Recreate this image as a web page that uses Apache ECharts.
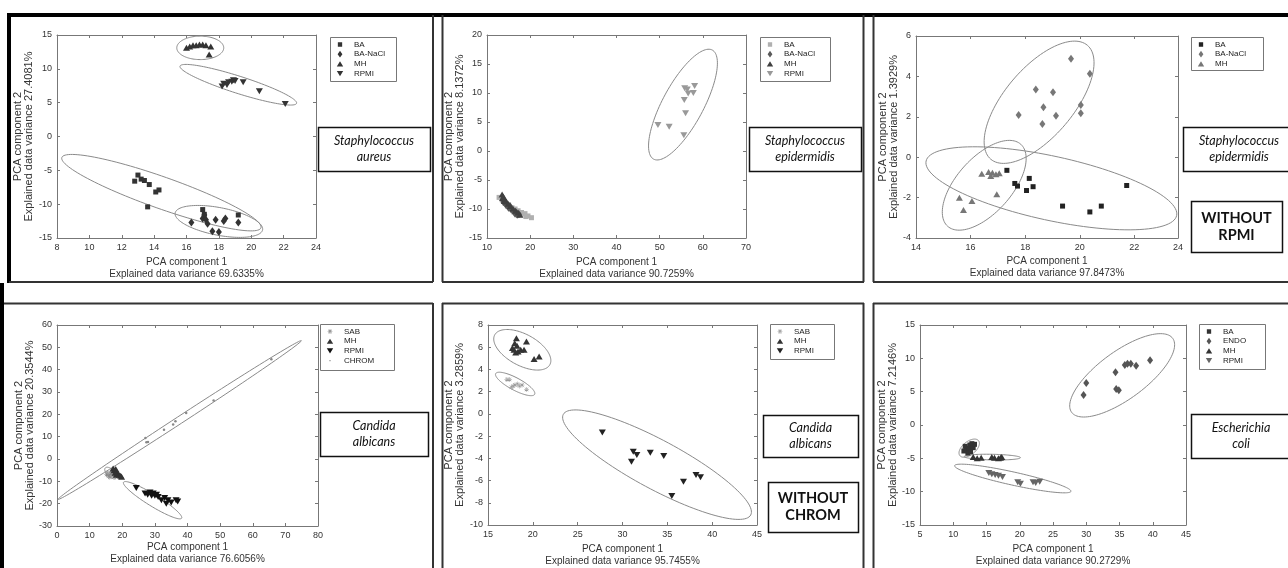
<!DOCTYPE html>
<html>
<head>
<meta charset="utf-8">
<title>PCA</title>
<script src="https://cdn.jsdelivr.net/npm/echarts/dist/echarts.min.js"></script>
<style>
html, body { margin: 0; padding: 0; background: #fff; }
#chart { width: 1288px; height: 568px; }
</style>
</head>
<body>
<div id="chart"></div>
<script type="text/javascript">
// explained variance per panel
var xVariance = ['69.6335%', '90.7259%', '97.8473%', '76.6056%', '95.7455%', '90.2729%'];
var yVariance = ['27.4081%', '8.1372%', '1.3929%', '20.3544%', '3.2859%', '7.2146%'];

// Staphylococcus aureus
var saBA = [[13.0,-5.7],[12.8,-6.6],[13.2,-6.3],[13.4,-6.5],[13.7,-7.1],[14.1,-8.2],[14.3,-7.9],[13.6,-10.4],[17.0,-10.8],[17.1,-11.5],[19.2,-11.6]];
var saBANaCl = [[16.3,-12.7],[17.0,-12.1],[17.1,-11.6],[17.2,-12.3],[17.3,-12.9],[17.6,-14.0],[17.8,-12.3],[18.0,-14.1],[18.3,-12.5],[18.4,-12.1],[19.2,-12.7]];
var saMH = [[16.0,13.1],[16.2,13.3],[16.4,13.5],[16.6,13.5],[16.8,13.6],[17.0,13.6],[17.2,13.5],[17.5,13.3],[17.4,12.1]];
var saRPMI = [[18.2,7.4],[18.3,7.8],[18.5,7.6],[18.6,8.0],[18.8,8.1],[18.9,8.3],[19.0,8.2],[19.5,8.0],[20.5,6.7],[22.1,4.8]];
// ellipses: major axis end 1 (x,y), end 2 (x,y), minor/major ratio
var saEllipses = [[15.4,13.1,18.3,13.1,0.5],[15.6,10.4,22.8,4.9,0.14],[8.3,-3.1,20.6,-13.5,0.15],[15.3,-11.3,20.7,-13.8,0.31]];

// Staphylococcus epidermidis
var seBA = [[12.8,-8.0],[13.5,-8.4],[14.2,-9.0],[15.0,-9.3],[15.8,-9.8],[16.5,-10.0],[17.2,-10.3],[18.0,-10.6],[18.8,-10.8],[19.5,-11.2],[20.3,-11.5],[17.8,-11.0],[19.0,-11.3],[16.2,-10.5]];
var seBANaCl = [[13.8,-8.8],[14.4,-9.3],[15.0,-9.8],[15.6,-10.1],[16.2,-10.4],[16.8,-10.6],[17.4,-10.9],[15.3,-9.5],[16.5,-10.8],[17.0,-11.0]];
var seMH = [[13.5,-7.5],[13.8,-7.9],[14.1,-8.3],[14.5,-8.7],[14.9,-9.1],[15.4,-9.5],[16.0,-9.9],[16.6,-10.3],[17.2,-10.6],[17.6,-11.0],[14.0,-8.6],[13.6,-8.1]];
var seRPMI = [[49.6,4.5],[52.2,4.2],[55.6,2.7],[56.0,6.5],[55.7,8.8],[55.8,10.8],[56.4,10.6],[56.6,9.9],[57.8,10.0],[58.1,11.2]];
var seEllipses = [[48.6,-1.4,62.2,17.4,0.33]];

// Staphylococcus epidermidis without RPMI
var se2BA = [[17.33,-0.65],[17.62,-1.3],[17.72,-1.43],[18.15,-1.05],[18.05,-1.65],[18.29,-1.46],[19.37,-2.42],[20.37,-2.71],[20.79,-2.42],[21.72,-1.4]];
var se2BANaCl = [[17.76,2.09],[18.39,3.35],[18.67,2.47],[18.63,1.64],[19.02,3.21],[19.13,2.05],[19.68,4.87],[20.04,2.17],[20.04,2.58],[20.37,4.13]];
var se2MH = [[16.41,-0.82],[16.66,-0.73],[16.8,-0.77],[16.74,-0.93],[16.93,-0.85],[17.05,-0.8],[16.96,-1.84],[15.59,-2.01],[15.74,-2.62],[16.05,-2.17]];
var se2Ellipses = [[14.37,-0.19,23.55,-2.89,0.25],[16.74,-0.1,20.28,5.54,0.46],[15.16,-3.42,17.84,0.64,0.5]];

// Candida albicans
var caSAB = [[15.5,-6.0],[16.0,-7.0],[16.5,-6.5],[17.0,-7.5],[15.8,-7.8],[16.8,-5.5],[17.5,-8.0],[16.2,-8.2],[15.2,-7.0]];
var caMH = [[17.2,-4.2],[17.5,-5.0],[18.0,-4.5],[18.5,-6.0],[19.0,-7.0],[19.5,-7.5],[18.2,-7.0],[17.8,-6.2],[19.8,-8.0]];
var caRPMI = [[24.3,-13.0],[27.0,-15.5],[27.8,-16.0],[28.5,-15.0],[29.5,-15.5],[30.0,-16.5],[31.0,-17.0],[32.0,-18.5],[33.0,-17.5],[34.0,-18.5],[35.0,-19.5],[36.5,-18.5],[37.0,-19.0],[33.5,-20.0],[30.5,-16.0],[29.0,-16.5]];
var caCHROM = [[27.1,9.4],[27.4,7.5],[27.9,7.6],[32.8,13.1],[35.6,15.5],[36.3,16.9],[39.6,20.6],[48.0,26.2],[65.7,44.7]];
var caEllipses = [[0.3,-18.1,74.9,53.0,0.025],[20.4,-10.4,38.2,-26.5,0.17],[14.8,-4.0,18.2,-8.6,0.5]];

// Candida albicans without CHROM
var cbSAB = [[17.1,3.1],[17.4,3.1],[17.6,2.4],[17.8,2.5],[18.0,2.6],[18.3,2.7],[18.5,2.5],[18.8,2.6],[19.3,2.2]];
var cbMH = [[18.17,6.81],[18.24,6.13],[17.9,5.77],[18.09,5.53],[18.35,5.62],[18.65,5.77],[17.72,5.92],[19.29,6.51],[19.02,5.77],[20.14,4.93],[20.7,5.17],[17.98,6.36]];
var cbRPMI = [[27.75,-1.67],[31.2,-3.4],[31.0,-4.3],[31.6,-3.7],[33.1,-3.5],[34.6,-3.8],[36.8,-6.1],[38.2,-5.5],[38.7,-5.7],[35.5,-7.4]];
var cbEllipses = [[15.75,7.11,21.9,4.43,0.5],[15.86,3.63,20.2,1.76,0.28],[23.4,-0.04,44.3,-9.1,0.23]];

// Escherichia coli
var ecBA = [[11.8,-3.2],[12.0,-3.8],[12.3,-3.5],[12.5,-3.0],[12.8,-2.8],[12.2,-4.2],[13.0,-3.4],[11.6,-3.9],[12.6,-4.0],[13.2,-2.9]];
var ecENDO = [[29.6,4.5],[30.0,6.3],[34.4,7.9],[34.5,5.4],[34.9,5.2],[35.8,9.0],[36.2,9.2],[36.7,9.2],[37.5,8.9],[39.6,9.7]];
var ecMH = [[13.0,-4.8],[13.6,-5.0],[14.2,-4.9],[15.8,-4.8],[16.2,-4.9],[16.8,-5.0],[17.1,-4.9],[17.3,-4.8]];
var ecRPMI = [[15.35,-7.2],[15.8,-7.4],[16.3,-7.5],[16.8,-7.6],[17.4,-7.8],[19.7,-8.6],[20.1,-8.8],[22.0,-8.6],[22.4,-8.7],[23.0,-8.5]];
var ecEllipses = [[27.8,1.9,43.0,13.0,0.38],[11.0,-4.6,13.8,-2.35,0.55],[11.65,-4.73,20.1,-4.9,0.1],[10.2,-6.1,27.7,-9.95,0.11]];

var FONT = '"Liberation Sans", Arial, sans-serif';
// legend icons drawn in a 10x10 box (corner specks keep the box size)
var PAD = 'M0,0h0.01v0.01z M10,10h-0.01v-0.01z ';
var SQ = {s: {symbol: 'rect', symbolSize: 5}, icon: 'path://' + PAD + 'M2.3,2.3h5.4v5.4h-5.4z'};
var DI = {s: {symbol: 'diamond', symbolSize: [6, 8]}, icon: 'path://' + PAD + 'M5,0.8L8,5L5,9.2L2,5z'};
var TU = {s: {symbol: 'triangle', symbolSize: [7, 6]}, icon: 'path://' + PAD + 'M5,1.8L9,8.2L1,8.2z'};
var TD = {s: {symbol: 'triangle', symbolSize: [7, 6], symbolRotate: 180}, icon: 'path://' + PAD + 'M1,1.8L9,1.8L5,8.2z'};
var AST = {s: {symbol: 'path://M4.5,0h1v10h-1z M0,4.5h10v1h-10z M1.1,1.8l0.7,-0.7l7.1,7.1l-0.7,0.7z M8.9,1.8l-0.7,-0.7l-7.1,7.1l0.7,0.7z', symbolSize: 5},
    icon: 'path://' + PAD + 'M4.6,2h0.8v6h-0.8z M2,4.6h6v0.8h-6z M2.6,3.2l0.6,-0.6l4.2,4.2l-0.6,0.6z M7.4,3.2l-0.6,-0.6l-4.2,4.2l0.6,0.6z'};
var DOT = {s: {symbol: 'circle', symbolSize: 2.5}, icon: 'path://' + PAD + 'M4.3,4.3h1.4v1.4h-1.4z'};

var panels = [
    {grid: {left: 57, top: 35, width: 259, height: 203}, x: [8, 24, 2], y: [-15, 15, 5], xGap: 18, yGap: 22.5,
     legendBox: [330, 37, 66, 44], species: [318, 127, 112, 44, 'Staphylococcus\naureus'], ellipses: saEllipses,
     groups: [['BA', saBA, SQ, '#333'], ['BA-NaCl', saBANaCl, DI, '#333'], ['MH', saMH, TU, '#333'], ['RPMI', saRPMI, TD, '#333']]},
    {grid: {left: 487, top: 35, width: 259, height: 203}, x: [10, 70, 10], y: [-15, 20, 5], xGap: 18, yGap: 19.5,
     legendBox: [760, 37, 70, 44], species: [749, 127, 112, 44, 'Staphylococcus\nepidermidis'], ellipses: seEllipses,
     groups: [['BA', seBA, SQ, '#b0b0b0'], ['BA-NaCl', seBANaCl, DI, '#5a5a5a'], ['MH', seMH, TU, '#404040'], ['RPMI', seRPMI, TD, '#999']]},
    {grid: {left: 916, top: 36, width: 262, height: 202}, x: [14, 23.6, 2], y: [-4, 6, 2], xGap: 17, yGap: 15.5,
     legendBox: [1191, 37, 72, 33], species: [1183, 127, 112, 44, 'Staphylococcus\nepidermidis'], note: [1191, 201, 91, 51, 'WITHOUT\nRPMI'], ellipses: se2Ellipses,
     groups: [['BA', se2BA, SQ, '#222'], ['BA-NaCl', se2BANaCl, DI, '#777'], ['MH', se2MH, TU, '#777']]},
    {grid: {left: 57, top: 325, width: 261, height: 201}, x: [0, 80, 10], y: [-30, 60, 10], xGap: 13, yGap: 21.5,
     legendBox: [320, 324, 74, 46], species: [320, 412, 108, 44, 'Candida\nalbicans'], ellipses: caEllipses,
     groups: [['SAB', caSAB, AST, '#888'], ['MH', caMH, TU, '#333'], ['RPMI', caRPMI, TD, '#111'], ['CHROM', caCHROM, DOT, '#888']]},
    {grid: {left: 488, top: 325, width: 269, height: 201}, x: [15, 45, 5], y: [-10, 8, 2], xGap: 18, yGap: 22.5,
     legendBox: [770, 324, 64, 35], species: [763, 415, 95, 42, 'Candida\nalbicans'], note: [768, 482, 90, 50, 'WITHOUT\nCHROM'], ellipses: cbEllipses,
     groups: [['SAB', cbSAB, AST, '#999'], ['MH', cbMH, TU, '#333'], ['RPMI', cbRPMI, TD, '#222']]},
    {grid: {left: 920, top: 325, width: 266, height: 201}, x: [5, 45, 5], y: [-15, 15, 5], xGap: 18, yGap: 21.5,
     legendBox: [1199, 324, 66, 45], species: [1191, 414, 100, 44, 'Escherichia\ncoli'], ellipses: ecEllipses,
     groups: [['BA', ecBA, SQ, '#333'], ['ENDO', ecENDO, DI, '#555'], ['MH', ecMH, TU, '#333'], ['RPMI', ecRPMI, TD, '#666']]}
];

function renderEllipse(params, api) {
    var p1 = api.coord([api.value(0), api.value(1)]);
    var p2 = api.coord([api.value(2), api.value(3)]);
    var r = api.value(4);
    var cx = (p1[0] + p2[0]) / 2, cy = (p1[1] + p2[1]) / 2;
    var ux = (p2[0] - p1[0]) / 2, uy = (p2[1] - p1[1]) / 2;
    var vx = -uy * r, vy = ux * r;
    var pts = [];
    for (var k = 0; k <= 120; k++) {
        var t = k / 120 * Math.PI * 2;
        pts.push([cx + Math.cos(t) * ux + Math.sin(t) * vx, cy + Math.cos(t) * uy + Math.sin(t) * vy]);
    }
    return {type: 'polyline', shape: {points: pts}, style: {stroke: '#8a8a8a', lineWidth: 1, fill: null}};
}

var axisLineStyle = {color: '#777', width: 1};
var grids = [], xAxes = [], yAxes = [], series = [], legends = [], graphics = [];

panels.forEach(function (p, i) {
    grids.push(p.grid);
    var xa = {
        gridIndex: i, type: 'value', min: p.x[0], max: p.x[1], interval: p.x[2],
        axisLine: {show: true, onZero: false, lineStyle: axisLineStyle},
        axisTick: {show: true, inside: true, length: 3, lineStyle: axisLineStyle},
        splitLine: {show: false}
    };
    var ya = {
        gridIndex: i, type: 'value', min: p.y[0], max: p.y[1], interval: p.y[2],
        axisLine: {show: true, onZero: false, lineStyle: axisLineStyle},
        axisTick: {show: true, inside: true, length: 3, lineStyle: axisLineStyle},
        splitLine: {show: false}
    };
    xAxes.push(Object.assign({}, xa, {
        position: 'bottom',
        axisLabel: {fontSize: 9, color: '#333', margin: 5, fontFamily: FONT,
            formatter: function (v) { return Math.round(v); }},
        name: 'PCA component 1\nExplained data variance ' + xVariance[i],
        nameLocation: 'middle', nameGap: p.xGap,
        nameTextStyle: {fontSize: 10, lineHeight: 12, color: '#333', fontFamily: FONT}
    }));
    xAxes.push(Object.assign({}, xa, {position: 'top', axisLabel: {show: false}}));
    yAxes.push(Object.assign({}, ya, {
        position: 'left',
        axisLabel: {fontSize: 9, color: '#333', margin: 5, fontFamily: FONT},
        name: 'PCA component 2\nExplained data variance ' + yVariance[i],
        nameLocation: 'middle', nameGap: p.yGap,
        nameTextStyle: {fontSize: 11, lineHeight: 11, color: '#333', fontFamily: FONT}
    }));
    yAxes.push(Object.assign({}, ya, {position: 'right', axisLabel: {show: false}}));

    series.push({
        type: 'custom', xAxisIndex: 2 * i, yAxisIndex: 2 * i, silent: true,
        renderItem: renderEllipse, data: p.ellipses, encode: {x: [0, 2], y: [1, 3]}, z: 1
    });
    var items = [];
    p.groups.forEach(function (g) {
        var name = g[0] + '|' + i;
        items.push({name: name, icon: g[2].icon});
        series.push(Object.assign({
            type: 'scatter', name: name, xAxisIndex: 2 * i, yAxisIndex: 2 * i,
            data: g[1], itemStyle: {color: g[3], opacity: 1}, z: 2
        }, g[2].s));
    });

    var lb = p.legendBox;
    legends.push({
        left: lb[0] + 6, top: lb[1] + 3, orient: 'vertical', padding: 0,
        itemWidth: 8, itemHeight: 8, itemGap: 0.7, selectedMode: false,
        data: items,
        formatter: function (n) { return n.split('|')[0]; },
        textStyle: {fontSize: 8, lineHeight: 9, color: '#222', fontFamily: FONT, padding: [0, 0, 0, 5]}
    });
    graphics.push({type: 'rect', shape: {x: lb[0] + 0.5, y: lb[1] + 0.5, width: lb[2], height: lb[3]},
        style: {fill: null, stroke: '#777', lineWidth: 1}, z: 10});

    var s = p.species;
    graphics.push({type: 'rect', shape: {x: s[0] + 0.5, y: s[1] + 0.5, width: s[2], height: s[3]},
        style: {fill: '#fff', stroke: '#111', lineWidth: 1.5}, z: 10});
    graphics.push({type: 'text', x: s[0] + s[2] / 2, y: s[1] + s[3] / 2, z: 11,
        style: {text: s[4], align: 'center', verticalAlign: 'middle', fontSize: 12.5, lineHeight: 16,
            fontStyle: 'italic', fontFamily: 'Lato, "Open Sans", sans-serif', fill: '#111'}});
    if (p.note) {
        var nb = p.note;
        graphics.push({type: 'rect', shape: {x: nb[0] + 0.5, y: nb[1] + 0.5, width: nb[2], height: nb[3]},
            style: {fill: '#fff', stroke: '#111', lineWidth: 1.5}, z: 10});
        graphics.push({type: 'text', x: nb[0] + nb[2] / 2, y: nb[1] + nb[3] / 2, z: 11,
            style: {text: nb[4], align: 'center', verticalAlign: 'middle', fontSize: 14.5, lineHeight: 17,
                fontWeight: 'bold', fontFamily: 'Lato, "Open Sans", sans-serif', fill: '#111'}});
    }
});

// panel frames
var frames = [
    [7, 15, 1288, 15, 4], [9, 13, 9, 283, 4], [433, 15, 433, 282, 2], [9, 282, 433, 282, 2],
    [442.5, 15, 442.5, 282, 2], [863.5, 15, 863.5, 282, 2], [442, 282, 864, 282, 2],
    [873.5, 15, 873.5, 282, 2], [873, 282, 1288, 282, 2],
    [1, 303.5, 433, 303.5, 2], [2, 283, 2, 568, 4], [433, 303, 433, 568, 2],
    [442, 303.5, 864, 303.5, 2], [442.5, 303, 442.5, 568, 2], [863.5, 303, 863.5, 568, 2],
    [873, 303.5, 1288, 303.5, 2], [873.5, 303, 873.5, 568, 2]
];
frames.forEach(function (f) {
    graphics.push({type: 'line', shape: {x1: f[0], y1: f[1], x2: f[2], y2: f[3]},
        style: {stroke: f[4] > 2 ? '#000' : '#333', lineWidth: f[4]}, z: 12});
});

var myChart = echarts.init(document.getElementById('chart'));
myChart.setOption({
    animation: false,
    backgroundColor: '#fff',
    textStyle: {fontFamily: FONT},
    grid: grids,
    xAxis: xAxes,
    yAxis: yAxes,
    legend: legends,
    series: series,
    graphic: graphics
});
</script>
</body>
</html>
